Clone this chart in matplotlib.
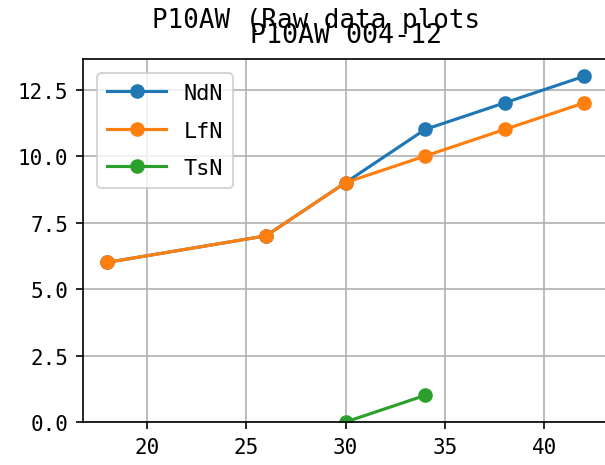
import matplotlib
matplotlib.use("Agg")
import matplotlib.pyplot as plt
import warnings
warnings.filterwarnings("ignore")

plt.rcParams['font.family'] = ['DejaVu Sans Mono']
plt.rcParams['axes.unicode_minus'] = False

x_nd = [18, 26, 30, 34, 38, 42]
ndn = [6, 7, 9, 11, 12, 13]
x_lf = [18, 26, 30, 34, 38, 42]
lfn = [6, 7, 9, 10, 11, 12]
x_ts = [30, 34]
tsn = [0, 1]

suptitle = "P10AW (Raw data plots"
title = "P10AW 004-12"

fig = plt.figure(figsize=(605/150, 466/150), dpi=150)
ax = fig.add_axes([83/605, 1 - 423/466, 525/605, 363/466])

ax.plot(x_nd, ndn, marker='o', label='NdN')
ax.plot(x_lf, lfn, marker='o', label='LfN')
ax.plot(x_ts, tsn, marker='o', label='TsN')

ax.set_xlim(16.8, 43.2)
ax.set_ylim(0, 13.65)
ax.set_xticks([20, 25, 30, 35, 40])
ax.set_yticks([0, 2.5, 5, 7.5, 10, 12.5])
ax.tick_params(labelsize=10)
ax.grid(True)
ax.legend(loc='upper left', fontsize=10.5, handlelength=2.7,
          labelspacing=0.8, borderpad=0.45, borderaxespad=0.65)
ax.set_title(title, fontsize=12.8, pad=8)
fig.suptitle(suptitle, x=316/605, y=1 - 28/466, va='baseline', fontsize=12.4)

fig.savefig("out.png", dpi=150)
